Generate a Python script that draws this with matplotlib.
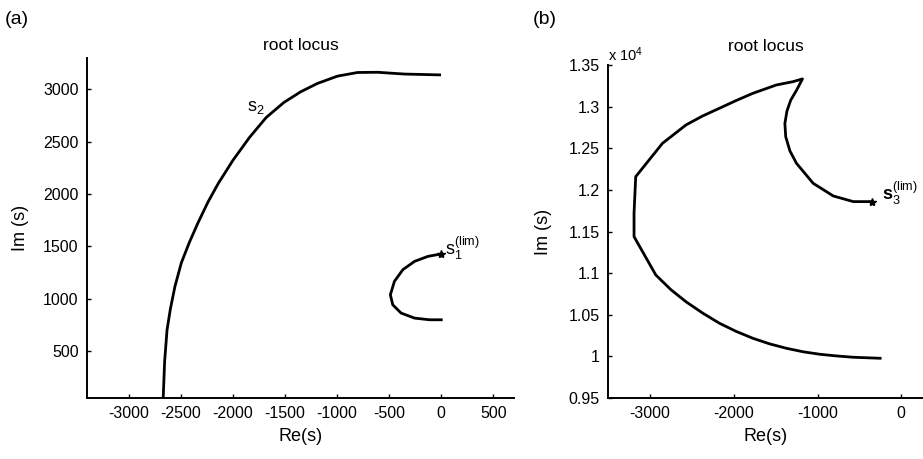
# coding:utf-8
import matplotlib
matplotlib.use('Agg')
import matplotlib.pyplot as plt
from matplotlib.ticker import FuncFormatter

# 字体设置
plt.rcParams['font.family'] = ['Liberation Sans', 'DejaVu Sans']
plt.rcParams['mathtext.fontset'] = 'custom'
plt.rcParams['mathtext.rm'] = 'Liberation Sans'
plt.rcParams['mathtext.it'] = 'Liberation Sans'
plt.rcParams['mathtext.bf'] = 'Liberation Sans:bold'
plt.rcParams['axes.unicode_minus'] = False

# (a) 根轨迹 s2
s2_re = [-2669, -2655, -2632, -2600, -2556, -2495, -2420, -2335, -2240, -2140,
         -2000, -1840, -1680, -1511, -1350, -1189, -996, -803, -610, -353, -15]
s2_im = [46, 400, 700, 900, 1116, 1340, 1531, 1723, 1920, 2100,
         2320, 2540, 2730, 2873, 2975, 3055, 3125, 3160, 3162, 3145, 3137]
# (a) 根轨迹 s1
s1_re = [0, -127, -256, -368, -449, -488, -465, -385, -256, -112, 1]
s1_im = [1426, 1403, 1355, 1276, 1164, 1036, 940, 861, 813, 797, 797]
# (b) 根轨迹 s3
s3_re = [-352, -572, -812, -1052, -1252, -1330, -1380, -1390, -1365, -1320,
         -1250, -1180, -1292, -1492, -1772, -1972, -2172, -2372, -2572, -2852,
         -3172, -3192, -3192, -2932, -2750, -2572, -2372, -2172, -1972, -1772,
         -1572, -1372, -1172, -972, -772, -572, -252]
s3_im = [11860, 11860, 11928, 12080, 12321, 12470, 12640, 12800, 12950, 13080,
         13200, 13335, 13302, 13262, 13162, 13075, 12982, 12890, 12781, 12561,
         12160, 11720, 11439, 10978, 10800, 10657, 10520, 10398, 10300, 10217,
         10150, 10097, 10055, 10025, 10005, 9989, 9977]

xticks_a = [-3000, -2500, -2000, -1500, -1000, -500, 0, 500]
yticks_a = [500, 1000, 1500, 2000, 2500, 3000]
xticks_b = [-3000, -2000, -1000, 0]
yticks_b = [9500, 10000, 10500, 11000, 11500, 12000, 12500, 13000, 13500]

fig = plt.figure(figsize=(9.23, 4.59), dpi=100)
ax1 = fig.add_axes([0.0943, 0.133, 0.4627, 0.741])
ax2 = fig.add_axes([0.659, 0.133, 0.341, 0.725])

fs = 11.5
for ax in (ax1, ax2):
    ax.spines['top'].set_visible(False)
    ax.spines['right'].set_visible(False)
    ax.spines['left'].set_linewidth(1.4)
    ax.spines['bottom'].set_linewidth(1.4)
    ax.tick_params(direction='in', length=3, width=1, labelsize=fs, pad=6)
    ax.set_xlabel('Re(s)', fontsize=13, labelpad=5)
ax1.set_ylabel('Im (s)', fontsize=13, labelpad=10)
ax2.set_ylabel('Im (s)', fontsize=13, labelpad=12)
ax1.set_title('root locus', fontsize=12.5, pad=6)
ax2.set_title('root locus', fontsize=12.5, pad=10)

# 图(a)
ax1.plot(s2_re, s2_im, 'k-', lw=2)
ax1.plot(s1_re, s1_im, 'k-', lw=2)
ax1.plot(s1_re[0], s1_im[0], 'k*', ms=6)
ax1.set_xlim(-3400, 700)
ax1.set_ylim(50, 3300)
ax1.set_xticks(xticks_a)
ax1.set_yticks(yticks_a)
ax1.text(-1780, 2830, r'$\mathregular{s_2}$', fontsize=13, ha='center', va='center')
ax1.text(40, 1480, r'$\mathregular{s_1^{(lim)}}$', fontsize=13, ha='left', va='center')

# 图(b)
ax2.plot(s3_re, s3_im, 'k-', lw=2)
ax2.plot(s3_re[0], s3_im[0], 'k*', ms=6)
ax2.set_xlim(-3500, 260)
ax2.set_ylim(9500, 13500)
ax2.set_xticks(xticks_b)
ax2.set_yticks(yticks_b)
ax2.yaxis.set_major_formatter(FuncFormatter(lambda v, p: '%g' % (v / 1e4)))
ax2.text(-230, 11960, r'$\mathbf{s}_{\mathregular{3}}^{\mathregular{(lim)}}$',
         fontsize=13, ha='left', va='center')
ax2.text(0.0, 1.005, r'x 10$^{4}$', transform=ax2.transAxes, fontsize=10.5,
         ha='left', va='bottom')

# 面板编号
fig.text(0.005, 0.958, '(a)', fontsize=14, ha='left', va='center')
fig.text(0.577, 0.958, '(b)', fontsize=14, ha='left', va='center')

fig.savefig('out.png', dpi=100)
